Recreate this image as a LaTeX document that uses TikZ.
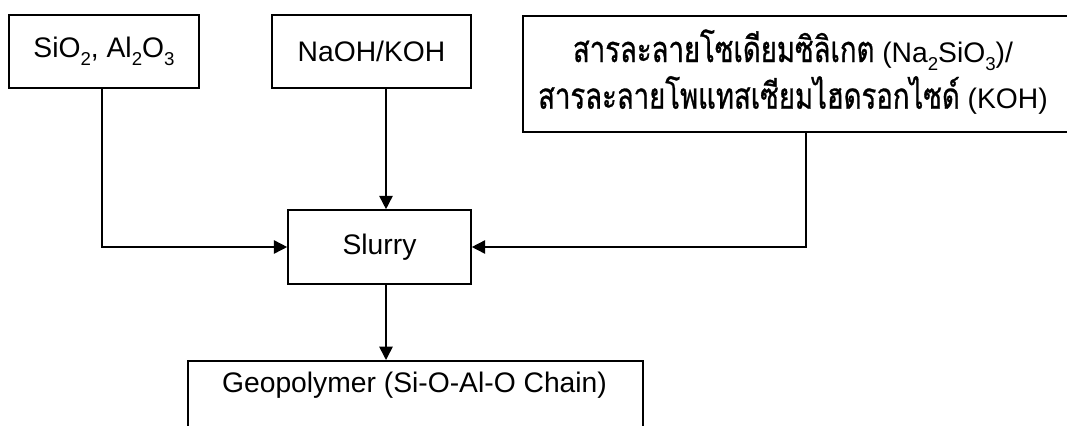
\documentclass[tikz,border=0pt]{standalone}
\usepackage{fontspec}
\setmainfont{Liberation Sans}
\newfontfamily\thaifont[Script=Thai, Scale=1.28, FakeStretch=0.76, FakeBold=0.8]{Loma}
\usetikzlibrary{arrows.meta}
% lowered chemical subscript
\newcommand\chsub[1]{\raisebox{-0.3em}{\fontsize{14}{14}\selectfont #1}}
\begin{document}
\begin{tikzpicture}[x=0.75pt,y=-0.75pt,
  box/.style={draw, line width=1.2pt, inner sep=0pt},
  lbl/.style={font=\fontsize{21.2}{35}\selectfont, align=center, inner sep=0pt},
  arr/.style={line width=1.2pt, -{Triangle[length=10pt,width=10pt]}}]
\useasboundingbox (0,0) rectangle (1067,425);

% input boxes
\node[box, lbl, minimum width=190*0.75pt, minimum height=73*0.75pt] (sio) at (104,51.5)
  {SiO\chsub{2}, Al\chsub{2}O\chsub{3}};
\node[box, lbl, minimum width=199*0.75pt, minimum height=73*0.75pt] (naoh) at (371.5,51.5)
  {NaOH/KOH};
\node[box, anchor=north west, minimum width=560*0.75pt, minimum height=116*0.75pt] (sol) at (522,15) {};
\node[lbl] (soltext) at (793,72)
  {{\thaifont สารละลายโซเดียมซิลิเกต} (Na\chsub{2}SiO\chsub{3})/\\
   {\thaifont สารละลายโพแทสเซียมไฮดรอกไซด์} (KOH)};

% mixing step
\node[box, lbl, minimum width=183*0.75pt, minimum height=74*0.75pt] (slurry) at (379.5,247) {Slurry};

% product
\node[box, anchor=north west, minimum width=455*0.75pt, minimum height=100*0.75pt] (geo) at (187,360) {};
\node[lbl] (geotext) at (414.5,385) {Geopolymer (Si-O-Al-O Chain)};

% connectors
\coordinate (cx) at (386,0);
\coordinate (lx) at (102,0);
\coordinate (rx) at (806,0);
\draw[arr] (sio.south -| lx) |- (slurry.west);
\draw[arr] (naoh.south -| cx) -- (slurry.north -| cx);
\draw[arr] (sol.south -| rx) |- (slurry.east);
\draw[arr] (slurry.south -| cx) -- (geo.north -| cx);
\end{tikzpicture}
\end{document}
